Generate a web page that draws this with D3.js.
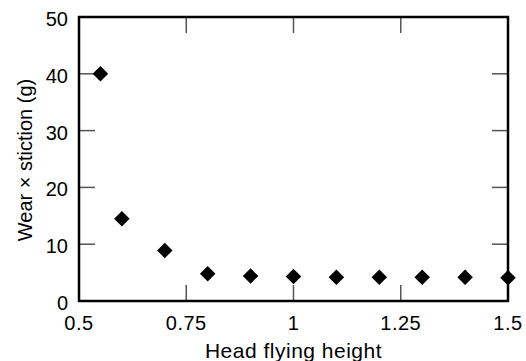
<!DOCTYPE html>
<html>
<head>
<meta charset="utf-8">
<script src="https://cdn.jsdelivr.net/npm/d3@7"></script>
<style>
  body { margin: 0; background: #fff; }
  text { font-family: "Liberation Sans", Arial, sans-serif; fill: #000; }
</style>
</head>
<body>
<div id="chart"></div>
<script>
// data
const flyingHeight = [0.55, 0.6, 0.7, 0.8, 0.9, 1.0, 1.1, 1.2, 1.3, 1.4, 1.5];
const wearStiction = [40, 14.5, 8.9, 4.8, 4.4, 4.3, 4.2, 4.2, 4.2, 4.2, 4.1];
const xTicks = [0.5, 0.75, 1, 1.25, 1.5];
const yTicks = [0, 10, 20, 30, 40, 50];

const width = 526, height = 361;
const margin = {top: 17, right: 18, bottom: 60, left: 79};
const innerW = width - margin.left - margin.right;
const innerH = height - margin.top - margin.bottom;

const svg = d3.select('#chart').append('svg')
  .attr('width', width)
  .attr('height', height);

const g = svg.append('g')
  .attr('transform', 'translate(' + margin.left + ',' + margin.top + ')');

const x = d3.scaleLinear().domain([0.5, 1.5]).range([0, innerW]);
const y = d3.scaleLinear().domain([0, 50]).range([innerH, 0]);

const tickLen = 16;
const tickColor = '#555';

// inner ticks on all four sides (no end ticks, the frame covers them)
const xInner = xTicks.slice(1, -1);
const yInner = yTicks.slice(1, -1);

g.selectAll('.xtick-b').data(xInner).enter().append('line')
  .attr('x1', d => x(d)).attr('x2', d => x(d))
  .attr('y1', innerH).attr('y2', innerH - tickLen)
  .attr('stroke', tickColor).attr('stroke-width', 1.5);
g.selectAll('.xtick-t').data(xInner).enter().append('line')
  .attr('x1', d => x(d)).attr('x2', d => x(d))
  .attr('y1', 0).attr('y2', tickLen)
  .attr('stroke', tickColor).attr('stroke-width', 1.5);
g.selectAll('.ytick-l').data(yInner).enter().append('line')
  .attr('x1', 0).attr('x2', tickLen)
  .attr('y1', d => y(d)).attr('y2', d => y(d))
  .attr('stroke', tickColor).attr('stroke-width', 1.5);
g.selectAll('.ytick-r').data(yInner).enter().append('line')
  .attr('x1', innerW).attr('x2', innerW - tickLen)
  .attr('y1', d => y(d)).attr('y2', d => y(d))
  .attr('stroke', tickColor).attr('stroke-width', 1.5);

// frame
g.append('rect')
  .attr('width', innerW).attr('height', innerH)
  .attr('fill', 'none').attr('stroke', '#000').attr('stroke-width', 2.5);

// tick labels
g.selectAll('.xlab').data(xTicks).enter().append('text')
  .attr('x', d => x(d))
  .attr('y', innerH + 29)
  .attr('text-anchor', 'middle')
  .style('font-size', '20px')
  .style('letter-spacing', '0.5px')
  .text(d => d);

g.selectAll('.ylab').data(yTicks).enter().append('text')
  .attr('x', -11)
  .attr('y', d => y(d))
  .attr('dy', '0.45em')
  .attr('text-anchor', 'end')
  .style('font-size', '20px')
  .text(d => d);

// axis titles
svg.append('text')
  .attr('x', margin.left + innerW / 2)
  .attr('y', height - 3)
  .attr('text-anchor', 'middle')
  .style('font-size', '21px')
  .style('letter-spacing', '0.5px')
  .text('Head flying height');

svg.append('text')
  .attr('transform', 'translate(32,' + (margin.top + innerH / 2 + 1) + ') rotate(-90)')
  .attr('text-anchor', 'middle')
  .style('font-size', '20px')
  .text('Wear × stiction (g)');

// diamond markers
const diamond = d3.symbol().type(d3.symbolSquare).size(120);
g.selectAll('.pt').data(flyingHeight).enter().append('path')
  .attr('d', diamond)
  .attr('transform', (d, i) => 'translate(' + x(d) + ',' + y(wearStiction[i]) + ') rotate(45)')
  .attr('fill', '#000');
</script>
</body>
</html>
